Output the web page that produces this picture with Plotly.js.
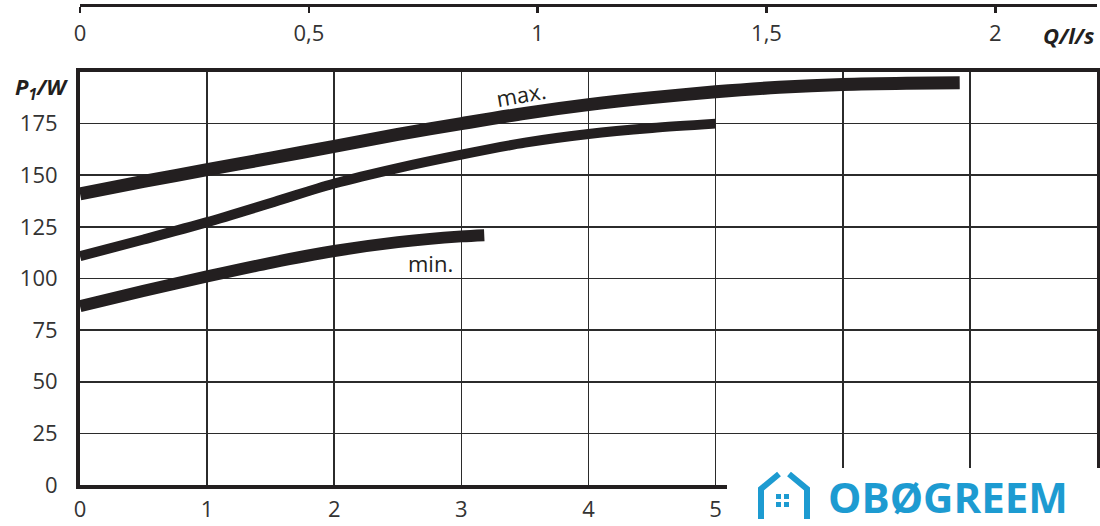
<!DOCTYPE html>
<html>
<head>
<meta charset="utf-8">
<script src="https://cdn.plot.ly/plotly-3.0.1.min.js"></script>
<style>html,body{margin:0;padding:0;background:#fff;}#chart{width:1100px;height:526px;}</style>
</head>
<body>
<div id="chart"></div>
<script>
// Flow in m³/h (bottom axis), power input P1 in W
const maxQ = [0, 0.5, 1, 1.5, 2, 2.5, 3, 3.5, 4, 4.5, 5, 5.5, 6, 6.5, 6.92];
const maxP = [141, 147, 152.7, 158.3, 164, 169.8, 175, 180, 184.2, 187.6, 190.4, 192.6, 194, 194.6, 194.8];

const midQ = [0, 0.5, 1, 1.5, 2, 2.5, 3, 3.5, 4, 4.5, 5];
const midP = [110.8, 118.9, 127.3, 136.6, 146, 153.5, 160, 165.8, 170, 172.9, 175];

const minQ = [0, 0.5, 1, 1.5, 2, 2.5, 3, 3.18];
const minP = [86.6, 94, 101, 107.6, 113.3, 117.6, 120.4, 121];

const bottomTickVals = [0, 1, 2, 3, 4, 5];
const yTickVals = [0, 25, 50, 75, 100, 125, 150, 175];
const topTickVals = [0, 0.5, 1, 1.5, 2];
const qMaxM3h = 8;
const qMaxLs = qMaxM3h / 3.6;

const ink = '#231f20';
const grid = '#2b2b2b';
const txt = '#333333';
const fontFam = '"Open Sans", "DejaVu Sans", sans-serif';

const traces = [
  {x: maxQ, y: maxP, mode: 'lines', line: {color: ink, width: 13, shape: 'spline', smoothing: 0.8}, hoverinfo: 'skip', showlegend: false},
  {x: midQ, y: midP, mode: 'lines', line: {color: ink, width: 10, shape: 'spline', smoothing: 0.8}, hoverinfo: 'skip', showlegend: false},
  {x: minQ, y: minP, mode: 'lines', line: {color: ink, width: 12, shape: 'spline', smoothing: 0.8}, hoverinfo: 'skip', showlegend: false},
  {x: [0, qMaxLs], y: [null, null], xaxis: 'x2', mode: 'lines', hoverinfo: 'skip', showlegend: false}
];

// pixel helpers for decoration placement (plot area: x 80..1097, y 5..485)
const px = v => (v - 80) / 1017;
const py = v => (485 - v) / 480;
const blue = '#1d9bd1';

const layout = {
  width: 1100, height: 526,
  margin: {l: 80, r: 3, t: 5, b: 41},
  paper_bgcolor: '#fff', plot_bgcolor: '#fff',
  separators: ', ',
  font: {family: fontFam, size: 22, color: txt},
  showlegend: false,
  xaxis: {
    range: [0, qMaxM3h], tickvals: bottomTickVals,
    showgrid: true, gridcolor: grid, gridwidth: 1.6,
    minor: {tickmode: 'linear', tick0: 0, dtick: 1, showgrid: true, gridcolor: grid, gridwidth: 1.6, ticks: ''},
    showline: true, linecolor: ink, linewidth: 4, mirror: true,
    ticks: '', ticklabelstandoff: 2, zeroline: false,
    tickfont: {family: fontFam, size: 22, color: txt}
  },
  xaxis2: {
    range: [0, qMaxLs], tickvals: topTickVals, overlaying: 'x', anchor: 'free', position: 1, side: 'bottom',
    showgrid: false, zeroline: false, showline: true, linecolor: ink, linewidth: 2.5,
    ticks: 'outside', ticklen: 6, tickwidth: 2.5, tickcolor: ink, ticklabelstandoff: 2,
    tickfont: {family: fontFam, size: 22, color: txt}
  },
  yaxis: {
    range: [0, 200], domain: [0, 0.8604], tickvals: yTickVals,
    showgrid: true, gridcolor: grid, gridwidth: 1.6,
    showline: true, linecolor: ink, linewidth: 4, mirror: true,
    ticks: '', ticklabelstandoff: 14, zeroline: false,
    tickfont: {family: fontFam, size: 22, color: txt}
  },
  shapes: [
    {type: 'rect', xref: 'paper', yref: 'paper', x0: px(727), x1: px(1102), y0: py(468), y1: py(528),
     fillcolor: '#ffffff', line: {width: 0}, layer: 'above'},
    {type: 'path', xref: 'paper', yref: 'paper', layer: 'above',
     path: `M ${px(761)},${py(519)} L ${px(761)},${py(489)} L ${px(779)},${py(474)}`,
     line: {color: blue, width: 6}},
    {type: 'path', xref: 'paper', yref: 'paper', layer: 'above',
     path: `M ${px(789)},${py(474)} L ${px(807)},${py(489)} L ${px(807)},${py(519)}`,
     line: {color: blue, width: 6}},
    {type: 'rect', xref: 'paper', yref: 'paper', layer: 'above', x0: px(776), x1: px(781), y0: py(499), y1: py(494), fillcolor: blue, line: {width: 0}},
    {type: 'rect', xref: 'paper', yref: 'paper', layer: 'above', x0: px(784), x1: px(789), y0: py(499), y1: py(494), fillcolor: blue, line: {width: 0}},
    {type: 'rect', xref: 'paper', yref: 'paper', layer: 'above', x0: px(776), x1: px(781), y0: py(507), y1: py(502), fillcolor: blue, line: {width: 0}},
    {type: 'rect', xref: 'paper', yref: 'paper', layer: 'above', x0: px(784), x1: px(789), y0: py(507), y1: py(502), fillcolor: blue, line: {width: 0}}
  ],
  annotations: [
    {xref: 'paper', yref: 'paper', x: px(70), y: py(88), xanchor: 'right', yanchor: 'middle', showarrow: false,
     text: '<b><i>P<sub>1</sub>/W</i></b>', font: {family: fontFam, size: 22, color: ink}},
    {xref: 'paper', yref: 'paper', x: px(1097), y: py(35), xanchor: 'right', yanchor: 'middle', showarrow: false,
     text: '<b><i>Q/l/s</i></b>', font: {family: fontFam, size: 22, color: ink}},
    {xref: 'x', yref: 'y', x: 3.47, y: 189.5, showarrow: false, textangle: -10,
     text: 'max.', font: {family: fontFam, size: 22, color: ink}},
    {xref: 'x', yref: 'y', x: 2.76, y: 107.5, showarrow: false,
     text: 'min.', font: {family: fontFam, size: 22, color: ink}},
    {xref: 'paper', yref: 'paper', x: px(948), y: py(497), xanchor: 'center', yanchor: 'middle', showarrow: false,
     text: '<b>OBØGREEM</b>', font: {family: fontFam, size: 42, color: blue}}
  ]
};

Plotly.newPlot('chart', traces, layout, {staticPlot: true, displayModeBar: false});
</script>
</body>
</html>
